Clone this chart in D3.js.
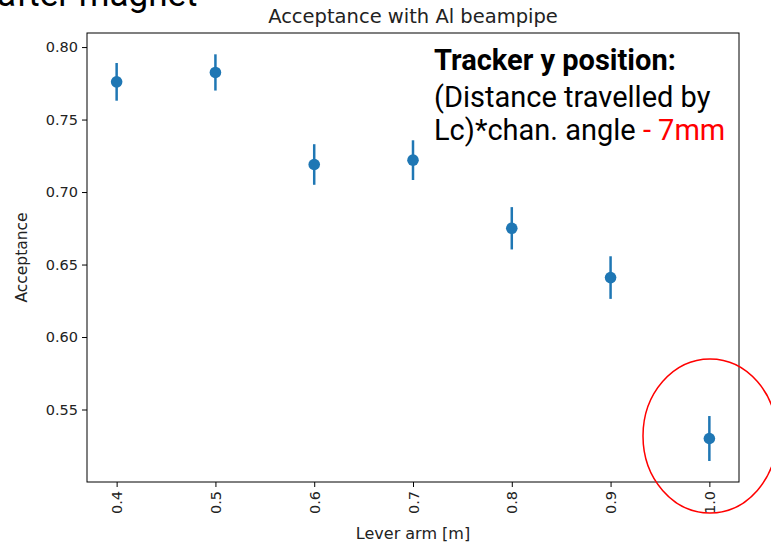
<!DOCTYPE html>
<html>
<head>
<meta charset="utf-8">
<script src="https://cdn.jsdelivr.net/npm/d3@7"></script>
<style>
  body { margin: 0; background: #fff; }
  svg { display: block; }
</style>
</head>
<body>
<div class="svg-container"></div>
<script>
// data
const leverArm = [0.4, 0.5, 0.6, 0.7, 0.8, 0.9, 1.0];
const acceptance = [0.776, 0.7825, 0.719, 0.722, 0.675, 0.641, 0.530];
const accErr = [0.013, 0.0125, 0.014, 0.0137, 0.0146, 0.0147, 0.0155];
const xTicks = [0.4, 0.5, 0.6, 0.7, 0.8, 0.9, 1.0];
const yTicks = [0.55, 0.60, 0.65, 0.70, 0.75, 0.80];

const W = 771, H = 542;
const margin = {top: 33, right: 32, bottom: 60, left: 87};
const width = W - margin.left - margin.right;
const height = H - margin.top - margin.bottom;

const svg = d3.select('.svg-container')
  .append('svg')
  .attr('width', W)
  .attr('height', H);

const g = svg.append('g')
  .attr('transform', `translate(${margin.left}, ${margin.top})`);

const x = d3.scaleLinear().domain([0.37, 1.03]).range([0, width]);
const y = d3.scaleLinear().domain([0.500, 0.8097]).range([height, 0]);

const mplFont = 'DejaVu Sans, sans-serif';

// axes
const xAxis = g.append('g')
  .attr('transform', `translate(0,${height})`)
  .call(d3.axisBottom(x).tickValues(xTicks).tickFormat(d3.format('.1f')).tickSizeInner(5).tickSizeOuter(0));
xAxis.selectAll('text')
  .attr('transform', 'rotate(-90)')
  .attr('text-anchor', 'end')
  .attr('x', -9)
  .attr('y', 0)
  .attr('dy', '0.35em');

const yAxis = g.append('g')
  .call(d3.axisLeft(y).tickValues(yTicks).tickFormat(d3.format('.2f')).tickSizeInner(5).tickSizeOuter(0));

g.selectAll('.domain').remove();
g.selectAll('.tick line').attr('stroke', '#000').attr('stroke-width', 1);
g.selectAll('.tick text')
  .style('font-family', mplFont)
  .style('font-size', '14.5px')
  .attr('fill', '#222');
yAxis.selectAll('text').attr('x', -9);

g.append('rect')
  .attr('width', width)
  .attr('height', height)
  .attr('fill', 'none')
  .attr('stroke', '#000')
  .attr('stroke-width', 1);

// error bars
const pts = leverArm.map((d, i) => ({x: d, y: acceptance[i], e: accErr[i]}));
g.selectAll('.err')
  .data(pts)
  .enter().append('line')
  .attr('x1', d => x(d.x))
  .attr('x2', d => x(d.x))
  .attr('y1', d => y(d.y - d.e))
  .attr('y2', d => y(d.y + d.e))
  .attr('stroke', '#1f77b4')
  .attr('stroke-width', 2.5);

g.selectAll('.pt')
  .data(pts)
  .enter().append('circle')
  .attr('cx', d => x(d.x))
  .attr('cy', d => y(d.y))
  .attr('r', 5.8)
  .attr('fill', '#1f77b4');

// titles and labels
g.append('text')
  .attr('x', width / 2)
  .attr('y', -10)
  .attr('text-anchor', 'middle')
  .style('font-family', mplFont)
  .style('font-size', '19.5px')
  .attr('fill', '#222')
  .text('Acceptance with Al beampipe');

g.append('text')
  .attr('x', width / 2)
  .attr('y', height + 57)
  .attr('text-anchor', 'middle')
  .style('font-family', mplFont)
  .style('font-size', '16px')
  .attr('fill', '#222')
  .text('Lever arm [m]');

g.append('text')
  .attr('transform', `translate(${-60},${height / 2}) rotate(-90)`)
  .attr('text-anchor', 'middle')
  .style('font-family', mplFont)
  .style('font-size', '15.5px')
  .attr('fill', '#222')
  .text('Acceptance');

// slide overlays
const slideFont = 'Roboto, sans-serif';
const note = svg.append('text')
  .style('font-family', slideFont)
  .style('font-size', '29px')
  .attr('fill', '#000');
note.append('tspan').attr('x', 434).attr('y', 70).style('font-weight', 'bold').text('Tracker y position:');
note.append('tspan').attr('x', 434).attr('y', 107).text('(Distance travelled by');
note.append('tspan').attr('x', 434).attr('y', 140).text('Lc)*chan. angle ');
note.append('tspan').attr('fill', '#ff0000').text('- 7mm');

svg.append('text')
  .attr('x', -3)
  .attr('y', 6)
  .style('font-family', slideFont)
  .style('font-size', '35px')
  .attr('fill', '#000')
  .text('after magnet');

svg.append('ellipse')
  .attr('cx', 710)
  .attr('cy', 436)
  .attr('rx', 67)
  .attr('ry', 77)
  .attr('fill', 'none')
  .attr('stroke', '#ff0000')
  .attr('stroke-width', 1.5);
</script>
</body>
</html>
